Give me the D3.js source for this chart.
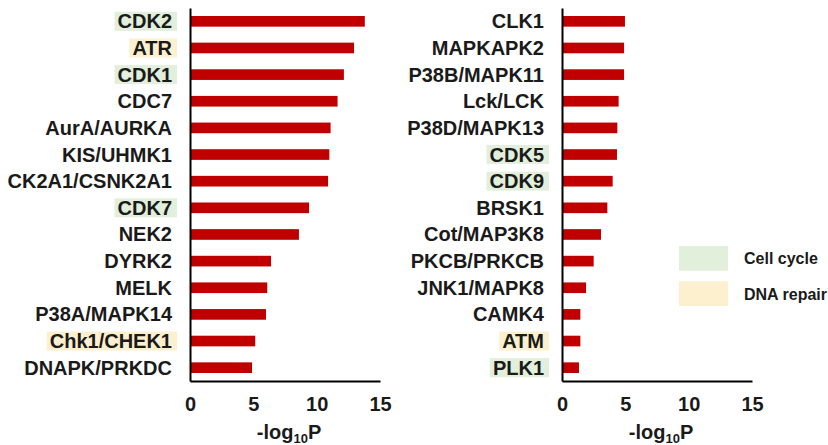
<!DOCTYPE html>
<html><head><meta charset="utf-8">
<script src="https://cdn.jsdelivr.net/npm/d3@7"></script>
<style>
html,body{margin:0;padding:0;background:#fff;}
svg{display:block;font-family:"Liberation Sans",Arial,sans-serif;font-weight:bold;}
</style></head>
<body><svg id="c" width="828" height="445"></svg>
<script>
const leftKinases = ["CDK2","ATR","CDK1","CDC7","AurA/AURKA","KIS/UHMK1","CK2A1/CSNK2A1","CDK7","NEK2","DYRK2","MELK","P38A/MAPK14","Chk1/CHEK1","DNAPK/PRKDC"];
const leftValues = [13.8,12.95,12.15,11.65,11.1,11.0,10.9,9.4,8.6,6.4,6.1,6.0,5.15,4.9];
const leftGroups = ["cell","dna","cell","","","","","cell","","","","","dna",""];

const rightKinases = ["CLK1","MAPKAPK2","P38B/MAPK11","Lck/LCK","P38D/MAPK13","CDK5","CDK9","BRSK1","Cot/MAP3K8","PKCB/PRKCB","JNK1/MAPK8","CAMK4","ATM","PLK1"];
const rightValues = [4.97,4.9,4.9,4.47,4.37,4.34,4.0,3.58,3.08,2.5,1.9,1.45,1.45,1.34];
const rightGroups = ["","","","","","cell","cell","","","","","","dna","cell"];

const xTicks = [0,5,10,15];
const legendLabels = ["Cell cycle","DNA repair"];
const legendKeys = ["cell","dna"];
const groupColor = {cell:"#e2efda", dna:"#fdf0cf"};
const barColor = "#c00000";

const svg = d3.select("#c");

function panel(names, values, groups, x0, x1){
  const x = d3.scaleLinear().domain([0,15]).range([x0,x1]);
  const y = d3.scaleBand().domain(names).range([8,381]).paddingInner(0.6).paddingOuter(0.3);
  const g = svg.append("g");
  // highlight boxes + labels
  const lab = g.append("g");
  names.forEach((n,i)=>{
    const cy = y(n)+y.bandwidth()/2;
    const t = lab.append("text").attr("x", x0-18).attr("y", cy+7)
      .attr("text-anchor","end").attr("font-size",20).attr("fill","#1a1a1a").text(n);
    if(groups[i]){
      const bb = t.node().getBBox();
      lab.insert("rect","text").attr("x", bb.x-3).attr("y", cy-9.5)
        .attr("width", (x0-13)-(bb.x-3)).attr("height", 19).attr("fill", groupColor[groups[i]]);
    }
  });
  // bars
  g.selectAll("rect.bar").data(values).enter().append("rect").attr("class","bar")
    .attr("x", x(0)+1).attr("y",(d,i)=>y(names[i]))
    .attr("width",d=>x(d)-x(0)-1).attr("height",y.bandwidth()).attr("fill",barColor);
  // axes
  const yAxis = d3.axisLeft(y).tickSize(0).tickFormat("");
  g.append("g").attr("transform",`translate(${x0},0)`).call(yAxis)
    .call(s=>s.select(".domain").attr("stroke","#000").attr("stroke-width",2));
  const xAxis = d3.axisBottom(x).tickValues(xTicks).tickSize(0).tickPadding(14);
  const xa = g.append("g").attr("transform","translate(0,381)").call(xAxis);
  xa.select(".domain").attr("stroke","#000").attr("stroke-width",2);
  xa.selectAll("text").attr("font-size",20).attr("font-family","Liberation Sans, Arial, sans-serif")
    .attr("font-weight","bold").attr("fill","#1a1a1a").attr("dy","0.71em").attr("y",16);
  // title
  const tt = g.append("text").attr("x",(x0+x1)/2+4).attr("y",439).attr("text-anchor","middle")
    .attr("font-size",20).attr("fill","#1a1a1a");
  tt.append("tspan").text("-log");
  tt.append("tspan").attr("font-size",13).attr("dy",4).text("10");
  tt.append("tspan").attr("dy",-4).text("P");
}

panel(leftKinases, leftValues, leftGroups, 190, 380);
panel(rightKinases, rightValues, rightGroups, 562, 752);

// legend
const ly = d3.scaleBand().domain(legendKeys).range([246,306]).paddingInner(0.3);
const lg = svg.append("g");
legendKeys.forEach((k,i)=>{
  lg.append("rect").attr("x",679).attr("y",ly(k)).attr("width",49).attr("height",ly.bandwidth()).attr("fill",groupColor[k]);
  lg.append("text").attr("x",744).attr("y",ly(k)+ly.bandwidth()/2+6).attr("font-size",16).attr("fill","#1a1a1a").text(legendLabels[i]);
});
</script></body></html>
